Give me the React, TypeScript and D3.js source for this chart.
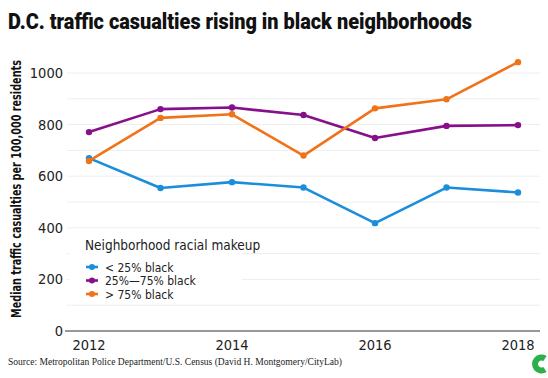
import React from "react";
import * as d3 from "d3";

const years = [2012, 2013, 2014, 2015, 2016, 2017, 2018];
const lowBlack = [670, 554, 577, 556, 418, 556, 537];
const midBlack = [771, 860, 866, 837, 748, 795, 798];
const highBlack = [659, 826, 840, 680, 863, 898, 1042];
const seriesNames = ["< 25% black", "25%\u201475% black", "> 75% black"];
const seriesColors = ["#1b8edb", "#870f8a", "#f0731a"];
const yTicks = [0, 200, 400, 600, 800, 1000];
const xTicks = [2012, 2014, 2016, 2018];

const W = 548, H = 378;
const cond = "'DejaVu Sans Condensed', 'Roboto', sans-serif";

export default function App() {
  const x = d3.scaleLinear().domain([2012, 2018]).range([89, 518]);
  const y = d3.scaleLinear().domain([0, 1000]).range([331, 73]);
  const line = d3.line<number>().x((_, i) => x(years[i])).y((d) => y(d));
  const data = [lowBlack, midBlack, highBlack];
  const grid = d3.range(100, 1100, 100);
  return (
    <svg width={W} height={H} style={{ position: "absolute", left: 0, top: 0, background: "#fff" }}>
      <text x={8} y={29} fontFamily="Roboto, sans-serif" fontWeight={900} fontSize={22} textLength={464} lengthAdjust="spacingAndGlyphs" fill="#111">
        D.C. traffic casualties rising in black neighborhoods
      </text>
      {grid.map((g) => (
        <line key={g} x1={67} x2={540} y1={y(g)} y2={y(g)} stroke="#eeeeee" strokeWidth={1} />
      ))}
      <line x1={65} x2={540} y1={y(0)} y2={y(0)} stroke="#333" strokeWidth={1} />
      {yTicks.map((t) => (
        <text key={t} x={63} y={y(t) + 5} textAnchor="end" fontFamily={cond} fontSize={14.5} fill="#222">{t}</text>
      ))}
      {xTicks.map((t) => (
        <text key={t} x={x(t)} y={350} textAnchor="middle" fontFamily={cond} fontSize={14.5} fill="#222">{t}</text>
      ))}
      <text transform={`translate(21,189) rotate(-90)`} textAnchor="middle" fontFamily={cond} fontWeight={700} fontSize={13.5} textLength={258} lengthAdjust="spacingAndGlyphs" fill="#111">
        Median traffic casualties per 100,000 residents
      </text>
      {data.map((s, k) => (
        <g key={k}>
          <path d={line(s) || ""} fill="none" stroke={seriesColors[k]} strokeWidth={2.6} strokeLinejoin="round" />
          {s.map((v, i) => (
            <circle key={i} cx={x(years[i])} cy={y(v)} r={3.2} fill={seriesColors[k]} />
          ))}
        </g>
      ))}
      <rect x={70} y={234} width={172} height={68} fill="#fff" />
      <text x={85} y={250} fontFamily={cond} fontSize={13.5} fill="#222">Neighborhood racial makeup</text>
      {seriesNames.map((n, k) => (
        <g key={k} transform={`translate(0,${267 + k * 13.5})`}>
          <line x1={86} x2={98} y1={0} y2={0} stroke={seriesColors[k]} strokeWidth={2.6} />
          <circle cx={92} cy={0} r={3} fill={seriesColors[k]} />
          <text x={105} y={4.5} fontFamily={cond} fontSize={12} fill="#222">{n}</text>
        </g>
      ))}
      <text x={8} y={365} fontFamily="'Liberation Serif', serif" fontSize={10.5} textLength={334} lengthAdjust="spacingAndGlyphs" fill="#222">
        Source: Metropolitan Police Department/U.S. Census (David H. Montgomery/CityLab)
      </text>
      <path d="M 545 358.5 A 6.5 6.5 0 1 0 545 369.5" fill="none" stroke="#2bb04a" strokeWidth={6} />
    </svg>
  );
}
